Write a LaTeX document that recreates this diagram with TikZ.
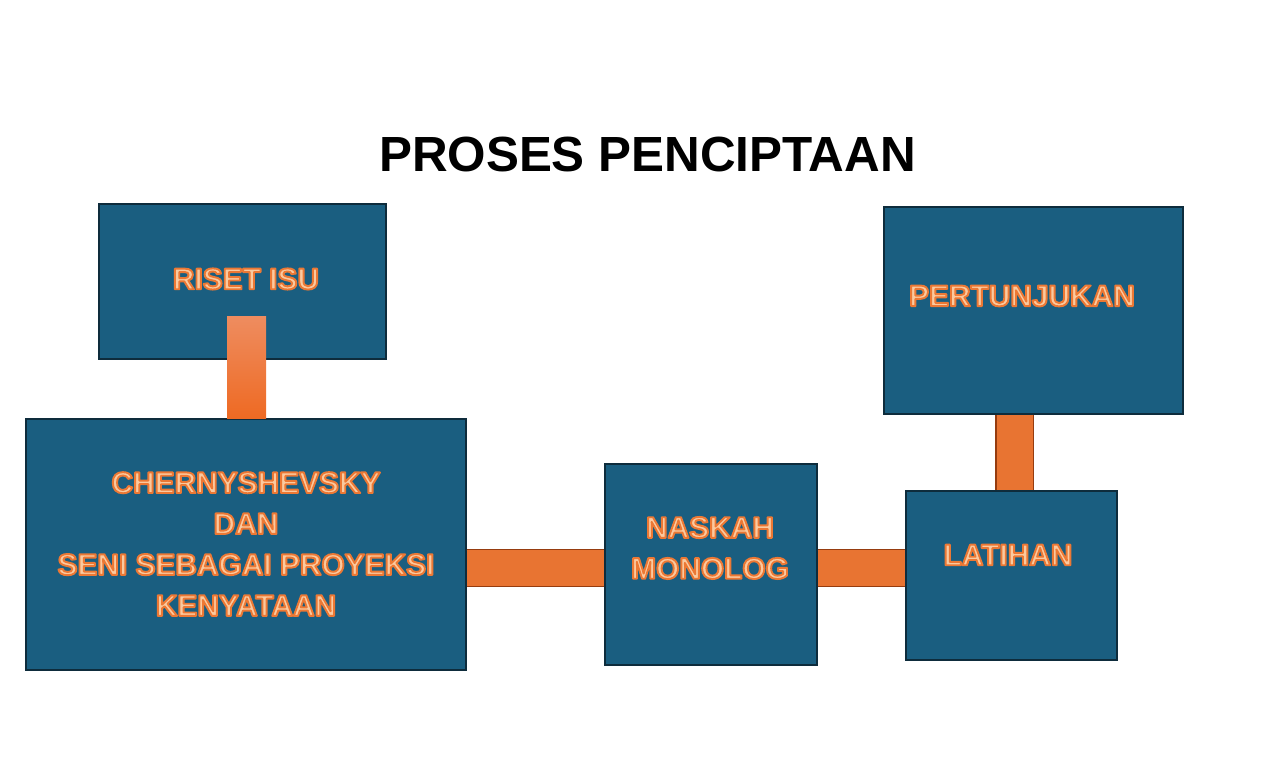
\documentclass[tikz,border=0pt]{standalone}
\usepackage{fontspec}
\setmainfont{Liberation Sans}
\usetikzlibrary{calc}
\definecolor{boxblue}{RGB}{26,94,128}
\definecolor{boxline}{RGB}{14,44,60}
\definecolor{linkorange}{RGB}{232,116,50}
\definecolor{linkline}{RGB}{150,60,15}
\definecolor{linktop}{RGB}{238,140,95}
\definecolor{linkbot}{RGB}{238,106,35}
\definecolor{textpeach}{RGB}{250,202,160}
\newcommand{\ol}[1]{\special{pdf:literal direct 2 Tr 1 j 1.1 w 0.925 0.471 0.204 RG}#1\special{pdf:literal direct 0 Tr}}
\tikzset{
	stage/.style={draw=boxline, line width=0.8pt, fill=boxblue, inner sep=0pt},
	stagetext/.style={text=textpeach, align=center, font=\bfseries\fontsize{17}{23.3}\selectfont},
	link/.style={draw=linkline, line width=0.6pt, double=linkorange, double distance=0.72cm}
}

\begin{document}
\begin{tikzpicture}
			%%%%% START %%%%%
			\useasboundingbox (0, 0) rectangle (25.68, 15.22);
			
			\node[font=\bfseries\fontsize{28.1}{34}\selectfont] (title) at (12.95, 12.12) {PROSES PENCIPTAAN};
			
			\node[stage, minimum width=5.74cm, minimum height=3.10cm] (riset) at (4.85, 9.59) {};
			\node[stage, minimum width=8.80cm, minimum height=5.02cm] (cher) at (4.92, 4.33) {};
			\node[stage, minimum width=4.24cm, minimum height=4.02cm] (naskah) at (14.22, 3.93) {};
			\node[stage, minimum width=4.22cm, minimum height=3.38cm] (latihan) at (20.23, 3.71) {};
			\node[stage, minimum width=5.98cm, minimum height=4.14cm] (pertunjukan) at (20.67, 9.01) {};
			
			\coordinate (row) at (0, 3.86);
			\coordinate (col) at (20.29, 0);
			\coordinate (risetlink) at (4.54, 8.88);
			
			\shade[top color=linktop, bottom color=linkbot] (risetlink) rectangle (cher.north -| 5.32, 0);
			\draw[link] (cher.east |- row) -- (naskah.west |- row);
			\draw[link] (naskah.east |- row) -- (latihan.west |- row);
			\draw[link] (pertunjukan.south -| col) -- (latihan.north -| col);
			
			\node[stagetext] (risettext) at ($(riset)+(0.07, 0.05)$) {\ol{RISET ISU}};
			\node[stagetext] (chertext) at ($(cher)+(0, 0.01)$) {\ol{CHERNYSHEVSKY}\\ \ol{DAN}\\ \ol{SENI SEBAGAI PROYEKSI}\\ \ol{KENYATAAN}};
			\node[stagetext] (naskahtext) at ($(naskah)+(-0.02, 0.33)$) {\ol{NASKAH}\\ \ol{MONOLOG}};
			\node[stagetext] (latihantext) at ($(latihan)+(-0.07, 0.41)$) {\ol{LATIHAN}};
			\node[stagetext] (pertunjukantext) at ($(pertunjukan)+(-0.23, 0.29)$) {\ol{PERTUNJUKAN}};
			
			%%%%% END %%%%%
		\end{tikzpicture}
\end{document}
